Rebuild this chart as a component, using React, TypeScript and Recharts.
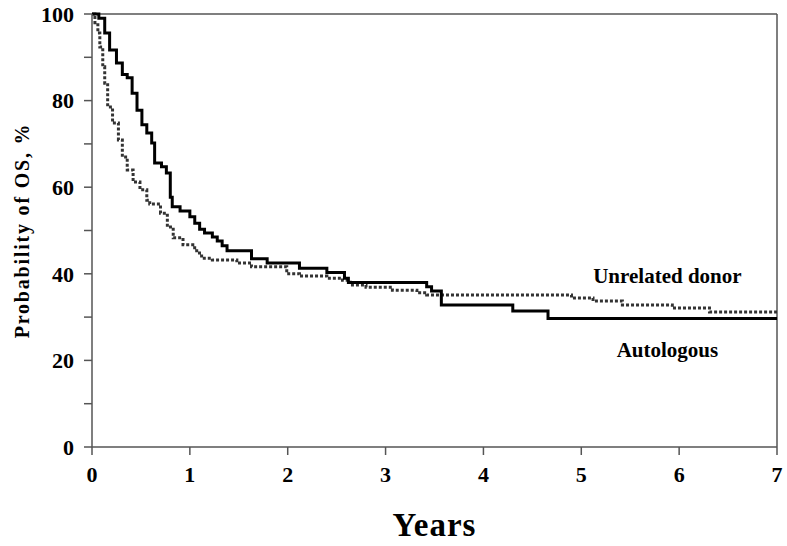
import {
  LineChart,
  Line,
  XAxis,
  YAxis,
  ReferenceLine,
  ReferenceDot,
} from "recharts";

// Autologous (solid) survival curve, years vs %
const autoYears = [
  0, 0.07, 0.13, 0.18, 0.25, 0.31, 0.36, 0.41, 0.46, 0.51, 0.56, 0.61, 0.64,
  0.71, 0.76, 0.8, 0.82, 0.9, 1.0, 1.05, 1.1, 1.15, 1.23, 1.28, 1.33, 1.38,
  1.63, 1.79, 2.12, 2.4, 2.58, 2.62, 3.42, 3.47, 3.57, 4.3, 4.66, 7,
];
const autoSurvival = [
  100, 99, 95.6, 91.7, 88.7, 86, 85.3, 81.7, 77.8, 74.4, 72.5, 70.2, 65.6,
  64.7, 63.3, 57.7, 55.5, 54.5, 53.2, 51.7, 50.3, 49.4, 48.5, 47.6, 46.5, 45.3,
  43.5, 42.5, 41.3, 40.3, 39, 38, 37, 36, 32.8, 31.4, 29.7, 29.7,
];

// Unrelated donor (dotted) survival curve
const udYears = [
  0, 0.03, 0.06, 0.08, 0.11, 0.13, 0.16, 0.21, 0.27, 0.31, 0.36, 0.42, 0.49,
  0.56, 0.59, 0.7, 0.77, 0.83, 0.93, 1.03, 1.07, 1.12, 1.23, 1.48, 1.63, 1.99,
  2.12, 2.4, 2.56, 2.64, 2.8, 3.07, 3.32, 3.42, 4.9, 5.12, 5.42, 5.93, 6.31, 7,
];
const udSurvival = [
  100, 98, 95.6, 92.4, 87.8, 84, 78.5, 74.8, 70.9, 67, 64, 61.2, 59.4, 57,
  56.1, 54, 50.8, 48.3, 46.7, 46, 44.8, 43.6, 43.2, 42.5, 41.6, 40, 39.5, 39,
  38.5, 37.4, 36.9, 36.2, 35.6, 35.1, 34.4, 33.7, 32.8, 32.1, 31.2, 31.2,
];

const xTicks = [0, 1, 2, 3, 4, 5, 6, 7];
const yTicks = [0, 10, 20, 30, 40, 50, 60, 70, 80, 90, 100];

const autoData = autoYears.map((t, i) => ({ t, v: autoSurvival[i] }));
const udData = udYears.map((t, i) => ({ t, v: udSurvival[i] }));

const serif = "'Liberation Serif', 'Times New Roman', serif";
const axisColor = "#555";
const tickStyle = { fill: "#000", fontSize: 22, fontWeight: "bold", fontFamily: serif };

export default function App() {
  return (
    <div style={{ position: "absolute", left: 0, top: 0, background: "#fff" }}>
      <LineChart
        width={787}
        height={546}
        margin={{ top: 14, right: 10, bottom: 0, left: 0 }}
      >
        <XAxis
          dataKey="t"
          type="number"
          domain={[0, 7]}
          ticks={xTicks}
          allowDataOverflow
          height={99}
          tickSize={8}
          tickMargin={11}
          stroke={axisColor}
          strokeWidth={1.5}
          tick={tickStyle}
          label={{
            content: ({ viewBox }: any) => (
              <text
                x={viewBox.x + viewBox.width / 2}
                y={viewBox.y + 89}
                textAnchor="middle"
                fontSize={33}
                fontWeight="bold"
                fontFamily={serif}
                letterSpacing={1}
                fill="#000"
              >
                Years
              </text>
            ),
          }}
        />
        <YAxis
          type="number"
          domain={[0, 100]}
          ticks={yTicks}
          width={92}
          tickSize={8}
          tickMargin={10}
          stroke={axisColor}
          strokeWidth={1.5}
          tick={tickStyle}
          tickFormatter={(v: number) => (v % 20 === 0 ? String(v) : "")}
          label={{
            content: ({ viewBox }: any) => {
              const x = 22;
              const y = viewBox.y + viewBox.height / 2;
              return (
                <text
                  x={x}
                  y={y}
                  transform={`rotate(-90, ${x}, ${y})`}
                  textAnchor="middle"
                  dominantBaseline="central"
                  fontSize={20}
                  fontWeight="bold"
                  fontFamily={serif}
                  letterSpacing={1.8}
                  fill="#000"
                >
                  Probability of OS, %
                </text>
              );
            },
          }}
        />
        <ReferenceLine y={100} stroke={axisColor} strokeWidth={1.5} />
        <ReferenceLine x={7} stroke={axisColor} strokeWidth={1.5} />
        <Line
          data={udData}
          dataKey="v"
          type="stepAfter"
          stroke="#333"
          strokeWidth={3}
          strokeDasharray="3 2"
          dot={false}
          isAnimationActive={false}
        />
        <Line
          data={autoData}
          dataKey="v"
          type="stepAfter"
          stroke="#000"
          strokeWidth={3}
          dot={false}
          isAnimationActive={false}
        />
        <ReferenceDot
          x={5.88}
          y={39.6}
          r={0}
          fill="none"
          stroke="none"
          label={{
            value: "Unrelated donor",
            position: "center",
            fill: "#000",
            fontSize: 21,
            fontWeight: "bold",
            fontFamily: serif,
          }}
        />
        <ReferenceDot
          x={5.88}
          y={22.4}
          r={0}
          fill="none"
          stroke="none"
          label={{
            value: "Autologous",
            position: "center",
            fill: "#000",
            fontSize: 21,
            fontWeight: "bold",
            fontFamily: serif,
          }}
        />
      </LineChart>
    </div>
  );
}
